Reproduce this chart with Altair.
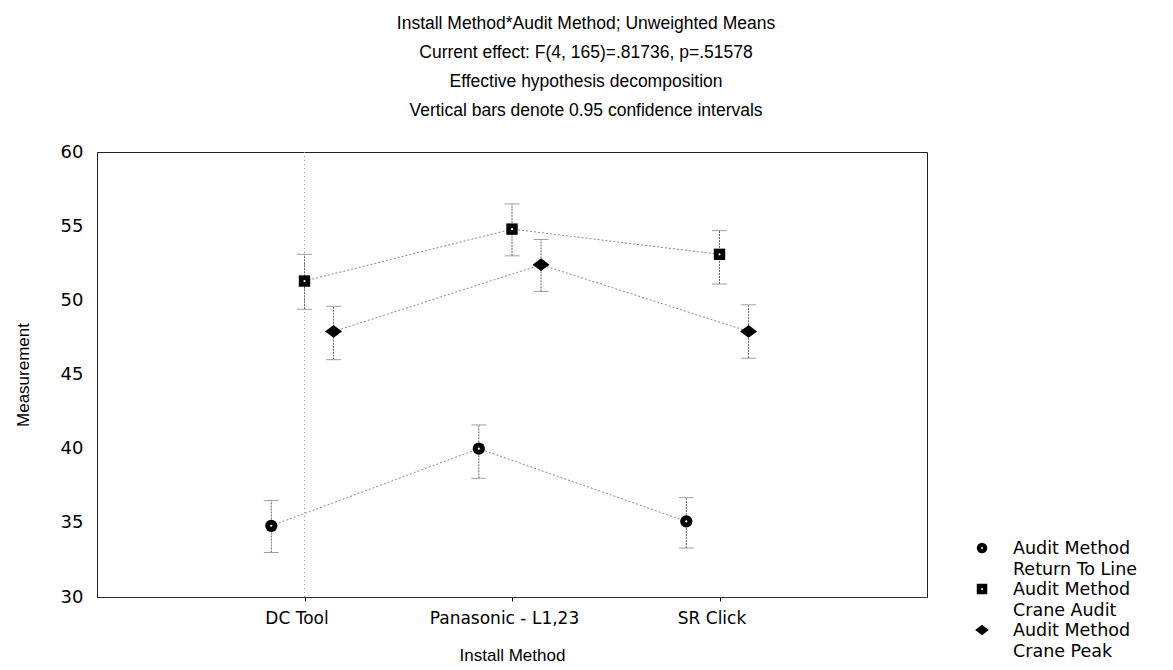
import altair as alt
import pandas as pd

# Install methods on the x axis and the three audit methods plotted as series
categories = ["DC Tool", "Panasonic - L1,23", "SR Click"]
series = ["Return To Line", "Crane Audit", "Crane Peak"]

# Unweighted means with 0.95 confidence limits, per audit method
means = {
    "Return To Line": [34.8, 40.0, 35.1],
    "Crane Audit": [51.3, 54.8, 53.1],
    "Crane Peak": [47.9, 52.4, 47.9],
}
lower = {
    "Return To Line": [33.0, 38.0, 33.3],
    "Crane Audit": [49.4, 53.0, 51.1],
    "Crane Peak": [46.0, 50.6, 46.1],
}
upper = {
    "Return To Line": [36.5, 41.6, 36.7],
    "Crane Audit": [53.1, 56.5, 54.7],
    "Crane Peak": [49.6, 54.1, 49.7],
}

title_lines = [
    "Install Method*Audit Method; Unweighted Means",
    "Current effect: F(4, 165)=.81736, p=.51578",
    "Effective hypothesis decomposition",
    "Vertical bars denote 0.95 confidence intervals",
]

# Horizontal dodge of each series around its category position
dodge = {"Return To Line": -0.16, "Crane Audit": 0.0, "Crane Peak": 0.14}
# a squat diamond (wider than tall) for the Crane Peak series
squat_diamond = "M -1 0 L 0 -0.75 L 1 0 L 0 0.75 Z"
shapes = {"Return To Line": "circle", "Crane Audit": "square", "Crane Peak": squat_diamond}
marker_size = {"Return To Line": 150, "Crane Audit": 130, "Crane Peak": 290}
legend_size = {"Return To Line": 110, "Crane Audit": 110, "Crane Peak": 190}
hollow_center = {"Return To Line": True, "Crane Audit": True, "Crane Peak": False}

rows = []
for s in series:
    for i, c in enumerate(categories):
        rows.append({
            "series": s,
            "category": c,
            "pos": i + 1 + dodge[s],
            "mean": means[s][i],
            "lo": lower[s][i],
            "hi": upper[s][i],
        })
df = pd.DataFrame(rows)

FONT = "Liberation Sans"
WIDE = "DejaVu Sans"
W, H = 830, 445

label_expr = (
    "datum.value == 1 ? '" + categories[0] + "' : datum.value == 2 ? '"
    + categories[1] + "' : datum.value == 3 ? '" + categories[2] + "' : ''"
)

x_scale = alt.Scale(domain=[0, 4], nice=False, zero=False)
x_enc = alt.X(
    "pos:Q",
    scale=x_scale,
    axis=alt.Axis(
        values=[1, 2, 3], labelExpr=label_expr, title="Install Method",
        grid=False, ticks=True, tickSize=4, tickColor="#000",
        labelFont=WIDE, labelFontSize=17, labelPadding=9, labelOffset=-8,
        titleFont=FONT, titleFontSize=17, titlePadding=21,
        titleFontWeight="normal", labelColor="#000",
        titleColor="#000", domainColor="#333",
    ),
)
y_scale = alt.Scale(domain=[30, 60], nice=False, zero=False)
y_axis = alt.Axis(
    values=[30, 35, 40, 45, 50, 55, 60], title="Measurement", grid=False,
    ticks=False, labelFont=WIDE, labelFontSize=18, labelPadding=14,
    titleFont=FONT, titleFontSize=17, titlePadding=28,
    titleFontWeight="normal", labelColor="#000",
    titleColor="#000", domainColor="#222",
)

base = alt.Chart(df)

# faint dotted reference line through the first category
ref = alt.Chart(pd.DataFrame({"pos": [1]})).mark_rule(
    color="#999", strokeDash=[1, 3], strokeWidth=1
).encode(x=alt.X("pos:Q", scale=x_scale), y=alt.value(0), y2=alt.value(H))

lines = base.mark_line(color="#888", strokeDash=[2, 2], strokeWidth=1).encode(
    x=x_enc,
    y=alt.Y("mean:Q", scale=y_scale, axis=y_axis),
    detail="series:N",
    order="pos:Q",
)

bars = base.mark_rule(color="#666", strokeWidth=1, strokeDash=[2, 1]).encode(
    x="pos:Q", y="lo:Q", y2="hi:Q"
)
cap_lo = base.mark_tick(color="#777", orient="horizontal", size=15, thickness=1).encode(
    x="pos:Q", y="lo:Q"
)
cap_hi = base.mark_tick(color="#777", orient="horizontal", size=15, thickness=1).encode(
    x="pos:Q", y="hi:Q"
)

marker_layers = []
for s in series:
    sub = base.transform_filter(alt.datum.series == s)
    marker_layers.append(
        sub.mark_point(filled=True, color="#000", size=marker_size[s],
                       opacity=1, shape=shapes[s]).encode(x="pos:Q", y="mean:Q")
    )
    if hollow_center[s]:
        marker_layers.append(
            sub.mark_point(filled=True, color="#fff", size=5, opacity=1).encode(
                x="pos:Q", y="mean:Q"
            )
        )

# legend drawn beside the plot, one two-line entry per audit method
legend_layers = []
for k, s in enumerate(series):
    ly = 396 + k * 41
    legend_layers.append(
        alt.Chart(pd.DataFrame({"s": [s]})).mark_point(
            filled=True, color="#000", size=legend_size[s], opacity=1, shape=shapes[s]
        ).encode(x=alt.value(W + 55), y=alt.value(ly))
    )
    if hollow_center[s]:
        legend_layers.append(
            alt.Chart(pd.DataFrame({"s": [s]})).mark_point(
                filled=True, color="#fff", size=4, opacity=1
            ).encode(x=alt.value(W + 55), y=alt.value(ly))
        )
    legend_layers.append(
        alt.Chart(pd.DataFrame({"t": [["Audit Method", s]]})).mark_text(
            align="left", baseline="middle", font=WIDE, fontSize=17.5,
            lineHeight=20.5, color="#000"
        ).encode(x=alt.value(W + 86), y=alt.value(ly + 1), text="t")
    )

chart = alt.layer(
    ref, lines, bars, cap_lo, cap_hi, *marker_layers, *legend_layers
).properties(
    width=W,
    height=H,
    title=alt.TitleParams(
        text=title_lines, fontSize=17.5, fontWeight="normal", font=FONT,
        lineHeight=29, anchor="middle", dx=74, offset=24, color="#000",
    ),
    padding={"left": 97, "top": 152, "right": 246, "bottom": 73},
    autosize=alt.AutoSizeParams(type="none"),
).configure(
    font=FONT, background="#fff"
).configure_view(
    stroke="#222", strokeWidth=1
)

chart.save("out.html", embed_options={"renderer": "svg", "actions": False})
